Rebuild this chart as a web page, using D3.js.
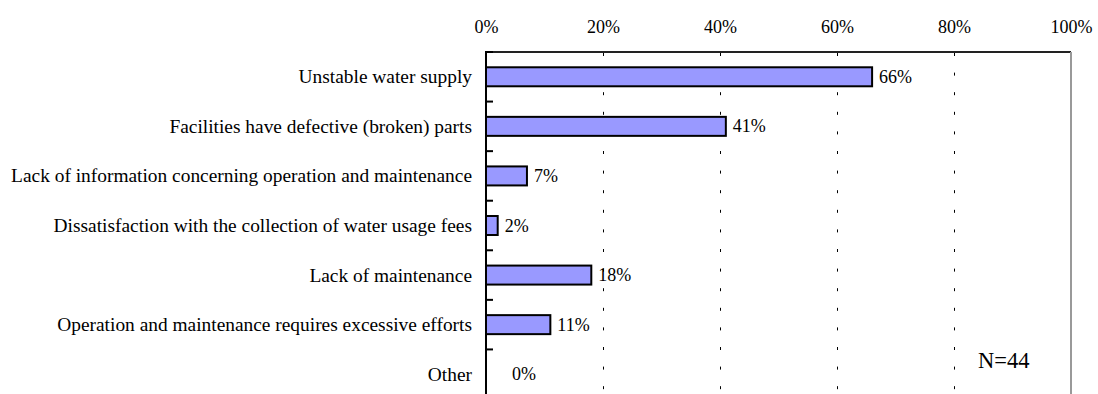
<!DOCTYPE html>
<html>
<head>
<meta charset="utf-8">
<script src="https://cdn.jsdelivr.net/npm/d3@7"></script>
<style>
  html, body { margin: 0; padding: 0; background: #fff; }
  svg { display: block; }
  svg text { font-family: "Liberation Serif", serif !important; fill: #000; }
</style>
</head>
<body>
<svg id="chart" width="1098" height="394"></svg>
<script>
const categories = [
  "Unstable water supply",
  "Facilities have defective (broken) parts",
  "Lack of information concerning operation and maintenance",
  "Dissatisfaction with the collection of water usage fees",
  "Lack of maintenance",
  "Operation and maintenance requires excessive efforts",
  "Other"
];
const values = [66, 41, 7, 2, 18, 11, 0];
const tickValues = [0, 20, 40, 60, 80, 100];
const tickLabels = ["0%", "20%", "40%", "60%", "80%", "100%"];
const note = "N=44";

const FONT = "Liberation Serif";
const svg = d3.select("#chart");
const pLeft = 486, pRight = 1071, pTop = 52, pBottom = 399;

const x = d3.scaleLinear().domain([0, 100]).range([pLeft, pRight]);
const y = d3.scaleBand().domain(categories).range([pTop, pBottom]).paddingInner(0).paddingOuter(0);

// gridlines (dashed)
svg.append("g").selectAll("line")
  .data(tickValues.filter(v => v > 0 && v < 100))
  .join("line")
  .attr("x1", d => Math.round(x(d)) + 0.5).attr("x2", d => Math.round(x(d)) + 0.5)
  .attr("y1", pTop + 1).attr("y2", pBottom)
  .attr("stroke", "#000").attr("stroke-width", 1)
  .attr("stroke-dasharray", "3,16.6");

// top border & right border
svg.append("line").attr("x1", pLeft).attr("x2", pRight).attr("y1", pTop).attr("y2", pTop)
  .attr("stroke", "#222").attr("stroke-width", 2);
svg.append("line").attr("x1", pRight).attr("x2", pRight).attr("y1", pTop).attr("y2", pBottom)
  .attr("stroke", "#999").attr("stroke-width", 2);

// top axis labels
const axTop = d3.axisTop(x).tickValues(tickValues)
  .tickFormat((d, i) => tickLabels[i]).tickSize(0).tickPadding(19);
const gTop = svg.append("g").attr("transform", `translate(0,${pTop})`).call(axTop)
  .attr("font-family", FONT).attr("font-size", 18);
gTop.select(".domain").remove();
gTop.selectAll("text").attr("font-size", 18).attr("font-family", FONT).attr("fill", "#000");

// bars
const barH = 19;
svg.append("g").selectAll("rect")
  .data(values.map((v, i) => ({ v, c: categories[i] })).filter(d => d.v > 0))
  .join("rect")
  .attr("x", x(0))
  .attr("y", d => y(d.c) + y.bandwidth() / 2 - barH / 2)
  .attr("width", d => x(d.v) - x(0))
  .attr("height", barH)
  .attr("fill", "#9999FF")
  .attr("stroke", "#000")
  .attr("stroke-width", 2);

// value labels
svg.append("g").selectAll("text")
  .data(values.map((v, i) => ({ v, c: categories[i] })))
  .join("text")
  .attr("x", d => x(d.v) + (d.v === 0 ? 26 : 7))
  .attr("y", d => y(d.c) + y.bandwidth() / 2 + 6)
  .attr("font-family", FONT)
  .attr("font-size", 18)
  .text(d => d.v + "%");

// category labels
svg.append("g").selectAll("text")
  .data(categories)
  .join("text")
  .attr("x", pLeft - 14)
  .attr("y", d => y(d) + y.bandwidth() / 2 + 6.5)
  .attr("text-anchor", "end")
  .attr("font-family", FONT)
  .attr("font-size", 19.4)
  .text(d => d);

// left axis line and inward ticks at band boundaries
svg.append("line").attr("x1", pLeft).attr("x2", pLeft).attr("y1", pTop - 1).attr("y2", pBottom)
  .attr("stroke", "#000").attr("stroke-width", 2);
svg.append("g").selectAll("line")
  .data(d3.range(categories.length))
  .join("line")
  .attr("x1", pLeft).attr("x2", pLeft + 7)
  .attr("y1", i => pTop + i * y.step()).attr("y2", i => pTop + i * y.step())
  .attr("stroke", "#000").attr("stroke-width", 2);

// note
svg.append("text").attr("x", 978).attr("y", 368).attr("font-family", FONT).attr("font-size", 22.5).text(note);
</script>
</body>
</html>
